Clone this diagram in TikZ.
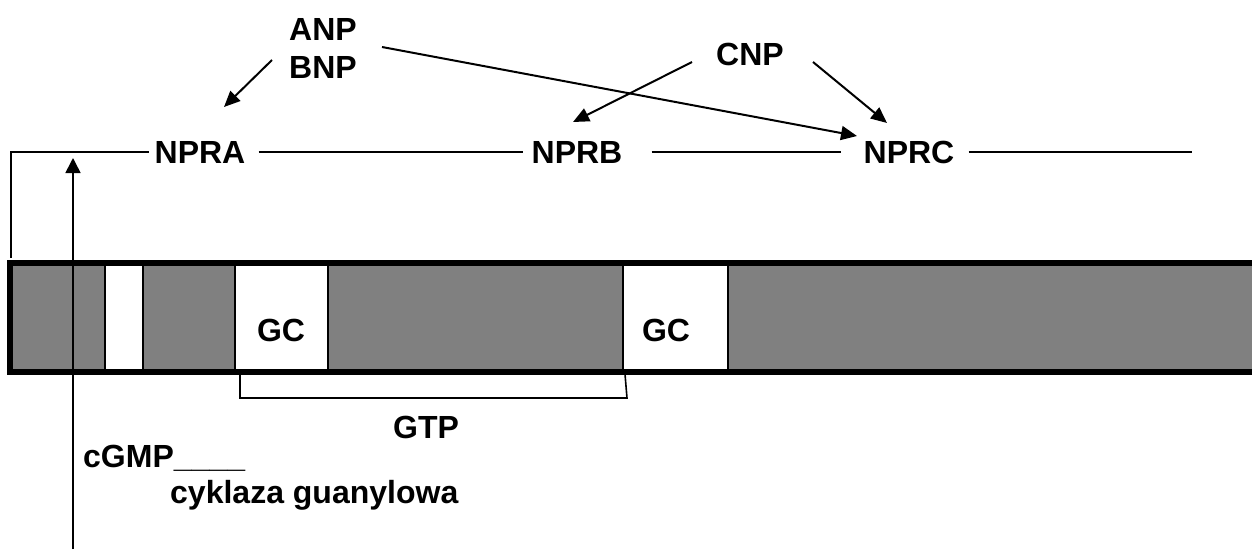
\documentclass[tikz,border=0pt]{standalone}
\usepackage{fontspec}
\setmainfont{Liberation Sans}
\usetikzlibrary{arrows.meta}
\definecolor{bargray}{RGB}{128,128,128}
\begin{document}
\begin{tikzpicture}[x=1pt,y=-1pt,
  lbl/.style={font=\fontsize{32}{38}\selectfont\bfseries, inner sep=0pt, text height=23pt, text depth=0pt},
  free/.style={font=\fontsize{32}{38}\selectfont\bfseries, inner sep=0pt, anchor=base west},
  conn/.style={line width=2pt},
  thin/.style={line width=1.6pt},
  arr/.style={line width=2pt,-{Triangle[length=16pt,width=14pt]}},
  whitebox/.style={line width=2pt, fill=white},
]
\clip (0,0) rectangle (1252,551);
% membrane bar
\fill[bargray] (10,263) rectangle (1270,371.5);
\draw[whitebox] (105,264) rectangle (143,370);
\draw[whitebox] (235,264) rectangle (328,370);
\draw[whitebox] (623,264) rectangle (728,370);
\draw[line width=6pt] (10,263) rectangle (1270,371.5);
% GTP bracket
\draw[thin] (240,374) -- (240,398) -- (627,398) -- (625,374);
% text nodes
\node[lbl] (anp) at (323,29) {ANP};
\node[lbl] (bnp) at (323,67) {BNP};
\node[lbl] (cnp) at (750,54) {CNP};
\node[lbl] (npra) at (200,152) {NPRA};
\node[lbl] (nprb) at (577,152) {NPRB};
\node[lbl] (nprc) at (909,152) {NPRC};
\node[lbl] (gc1) at (281,330) {GC};
\node[lbl] (gc2) at (666,330) {GC};
\node[lbl] (gtp) at (426,427) {GTP};
\node[free] (cgmp) at (83,467) {cGMP\_\_\_\_};
\node[free] (cyk) at (170,503) {cyklaza guanylowa};
% receptor line
\coordinate (corner) at (11,258);
\coordinate (lineend) at (1192,152);
\draw[conn] (corner) |- ([xshift=-5]npra.west);
\draw[conn] ([xshift=13]npra.east) -- ([xshift=-8]nprb.west);
\draw[conn] ([xshift=29]nprb.east) -- ([xshift=-22]nprc.west);
\draw[conn] ([xshift=14]nprc.east) -- (lineend);
% cGMP arrow
\coordinate (cgmpfoot) at (73,549);
\coordinate (cgmptip) at (73,158);
\draw[thin,-{Triangle[length=15pt,width=15pt]}] (cgmpfoot) -- (cgmptip);
% ligand arrows
\draw[arr] ([shift={(-51,-7)}]bnp.center) -- ([shift={(24,-45)}]npra.center);
\draw[arr] ([shift={(59,18)}]anp.center) -- ([shift={(-52,-16)}]nprc.center);
\draw[arr] ([shift={(-58,8)}]cnp.center) -- ([shift={(-4,-30)}]nprb.center);
\draw[arr] ([shift={(63,8)}]cnp.center) -- ([shift={(-22,-29)}]nprc.center);
\end{tikzpicture}
\end{document}
